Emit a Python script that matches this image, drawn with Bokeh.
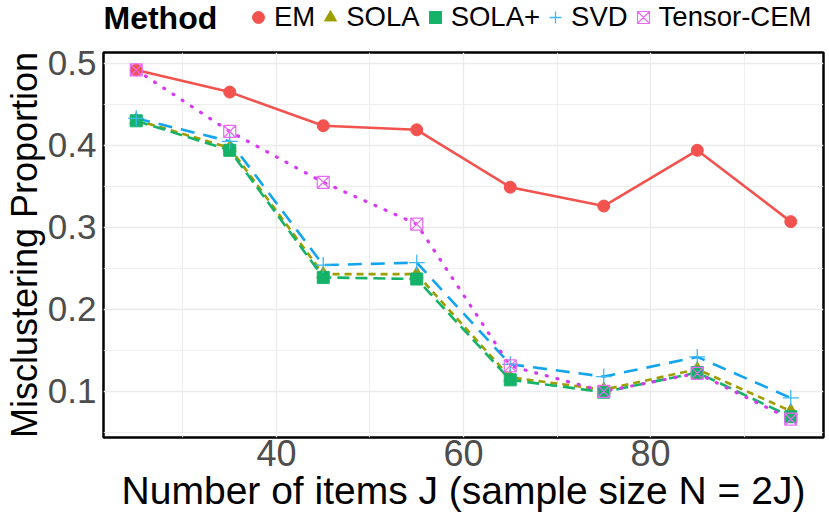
from bokeh.plotting import figure
from bokeh.layouts import column
from bokeh.models import Range1d, FixedTicker, Legend, LegendItem, Label
from bokeh.embed import file_html
from bokeh.resources import INLINE

# ---- data ----
J = [25, 35, 45, 55, 65, 75, 85, 95]
em = [0.492, 0.465, 0.424, 0.419, 0.349, 0.326, 0.394, 0.307]
sola = [0.431, 0.397, 0.243, 0.243, 0.117, 0.102, 0.127, 0.076]
sola_plus = [0.430, 0.394, 0.239, 0.237, 0.114, 0.099, 0.123, 0.069]
svd = [0.433, 0.405, 0.254, 0.257, 0.133, 0.118, 0.142, 0.092]
tensor = [0.492, 0.417, 0.355, 0.304, 0.131, 0.100, 0.122, 0.066]
methods = ["EM", "SOLA", "SOLA+", "SVD", "Tensor-CEM"]
legend_title = "Method"
x_title = "Number of items J (sample size N = 2J)"
y_title = "Misclustering Proportion"
x_ticks = [40, 60, 80]
x_minor = [30, 50, 70, 90]
y_ticks = [0.1, 0.2, 0.3, 0.4, 0.5]
y_minor = [0.05, 0.15, 0.25, 0.35, 0.45]

FONT = "Liberation Sans"
colors = ["#F2534E", "#9E9E00", "#15B26A", "#12A5EE", "#E25EF0"]
dashes = ["solid", "7 5", "12 6", "14 9", "1 10"]
markers = [dict(marker="circle", size=12, fill_color=colors[0], line_color=colors[0]),
           dict(marker="triangle", size=13, fill_color=colors[1], line_color=colors[1]),
           dict(marker="square", size=12, fill_color=colors[2], line_color=colors[2]),
           dict(marker="cross", size=16, line_color="#3CB8F5", line_width=1.3),
           dict(marker="square_x", size=12, fill_color=None, line_color="#E76BF3",
                line_width=1.2)]

# ---------------- main plot ----------------
p = figure(width=829, height=472, output_backend="svg", toolbar_location=None,
           x_range=Range1d(21.5, 98.5), y_range=Range1d(0.0437, 0.5133),
           min_border_left=101, min_border_right=6, min_border_top=2,
           min_border_bottom=85)
p.background_fill_color = "white"
p.border_fill_color = "white"
p.outline_line_color = "black"
p.outline_line_width = 2.5

for ax in (p.xaxis[0], p.yaxis[0]):
    ax.axis_line_color = None
    ax.major_tick_line_color = None
    ax.minor_tick_line_color = None
    ax.major_tick_out = 0
    ax.minor_tick_out = 0
    ax.major_tick_in = 0
    ax.minor_tick_in = 0
    ax.major_label_text_font = FONT
    ax.major_label_text_color = "#4D4D4D"
    ax.axis_label_text_font = FONT
    ax.axis_label_text_font_style = "normal"
    ax.axis_label_text_color = "black"

p.xaxis.ticker = FixedTicker(ticks=x_ticks, minor_ticks=x_minor)
p.yaxis.ticker = FixedTicker(ticks=y_ticks, minor_ticks=y_minor)
p.xaxis.axis_label = x_title
p.xaxis.axis_label_text_font_size = "39px"
p.xaxis.major_label_text_font_size = "36px"
p.xaxis.major_label_standoff = 2
p.xaxis.axis_label_standoff = 0
p.yaxis.axis_label = y_title
p.yaxis.axis_label_text_font_size = "36px"
p.yaxis.major_label_text_font_size = "35px"
p.yaxis.major_label_standoff = 7
p.yaxis.axis_label_standoff = 0

for g in (p.xgrid[0], p.ygrid[0]):
    g.grid_line_color = "#EBEBEB"
    g.grid_line_width = 1.3
    g.minor_grid_line_color = "#EBEBEB"
    g.minor_grid_line_width = 0.8

series = [em, sola, sola_plus, svd, tensor]
# lines first (like ggplot layer order)
for vals, c, d in zip(series, colors, dashes):
    if d == "1 10":
        p.line(J, vals, line_color="#D63AF0", line_width=3.2, line_dash=d, line_cap="round")
    else:
        p.line(J, vals, line_color=c, line_width=2.6, line_dash=d)
for vals, mk in zip(series, markers):
    p.scatter(J, vals, **mk)

# ---------------- legend strip (above the plot; frame aligned with main frame) ----------------
leg = figure(width=829, height=50, output_backend="svg", toolbar_location=None,
             x_range=Range1d(0, 722), y_range=Range1d(0, 50),
             min_border_left=0, min_border_right=0, min_border_top=0,
             min_border_bottom=0)
leg.axis.visible = False
leg.grid.visible = False
leg.outline_line_color = None
leg.background_fill_color = "white"
leg.border_fill_color = "white"

# key-only renderers (placed outside the strip's visible range)
key_renderers = [leg.scatter(x=[-500], y=[-500], **mk) for mk in markers]
items = [LegendItem(label=m, renderers=[r]) for m, r in zip(methods, key_renderers)]
legend = Legend(items=items, orientation="horizontal", location=(140, 17),
                glyph_width=30, glyph_height=32, label_standoff=1, spacing=0,
                padding=0, margin=0, border_line_color=None,
                background_fill_alpha=0,
                label_text_font=FONT, label_text_font_size="27.5px",
                label_text_color="black")
leg.add_layout(legend, "center")
leg.add_layout(Label(x=0, y=33, text=legend_title, text_font=FONT,
                     text_font_size="32px", text_font_style="bold",
                     text_color="black", text_baseline="middle", text_align="left"))

layout = column(leg, p, spacing=0)
open("out.html", "w").write(file_html(layout, INLINE))
